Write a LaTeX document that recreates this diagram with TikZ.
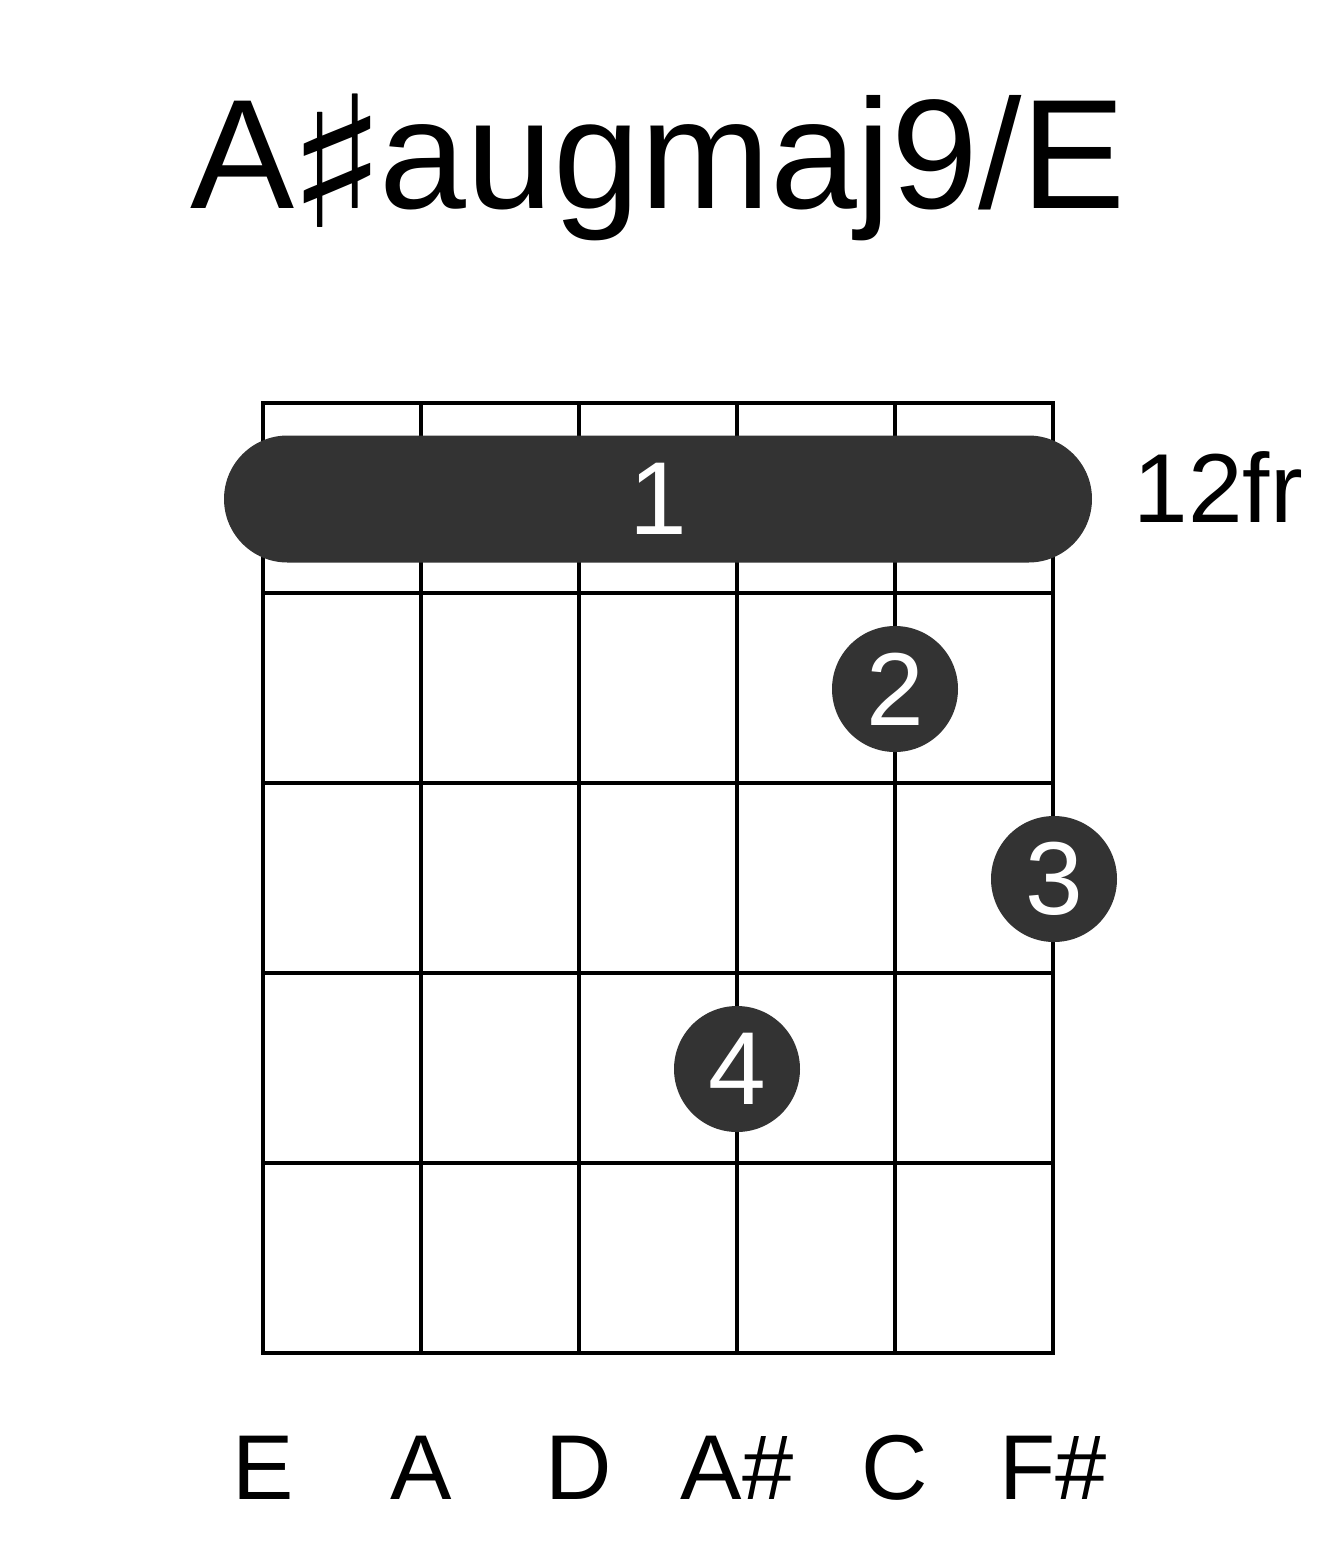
\documentclass[tikz,border=0pt]{standalone}
\usepackage{fontspec}
\setmainfont{Liberation Sans}
\newfontfamily\symfont{DejaVu Sans}
\usepackage{tikz}
\usetikzlibrary{positioning}
\usepackage{xcolor}
\definecolor{fing}{HTML}{333333}

\begin{document}
\begin{tikzpicture}[
		x=0.1mm, y=-0.1mm,
		g/.style = {line width=0.45mm, black},
		f/.style = {circle, fill=fing, text=white, minimum size=12.6mm, inner sep=0, font=\fontsize{29.5}{30}\selectfont},
		b/.style = {rectangle, rounded corners=6.35mm, fill=fing, text=white, minimum width=86.8mm, minimum height=12.7mm, inner sep=0, font=\fontsize{29.5}{30}\selectfont},
		s/.style = {anchor=base, inner sep=0, font=\fontsize{26.2}{27}\selectfont}
		]
		\useasboundingbox (0,0) rectangle (1317,1551);
		
		%Title
		\node[anchor=base, inner sep=0, font=\fontsize{44.4}{45}\selectfont]	(title)	at	(658,208)	{A\kern-0.8mm\raisebox{-1.9mm}{\scalebox{1.15}[1]{\symfont\fontsize{52}{52}\selectfont ♯}}\kern-0.8mm augmaj9/E};
		
		%Strings
		\draw[g]	(263,403)	--	(263,1353);
		\draw[g]	(421,403)	--	(421,1353);
		\draw[g]	(579,403)	--	(579,1353);
		\draw[g]	(737,403)	--	(737,1353);
		\draw[g]	(895,403)	--	(895,1353);
		\draw[g]	(1053,403)	--	(1053,1353);
		
		%Frets
		\draw[g]	(261,403)	--	(1055,403);
		\draw[g]	(263,593)	--	(1053,593);
		\draw[g]	(263,783)	--	(1053,783);
		\draw[g]	(263,973)	--	(1053,973);
		\draw[g]	(263,1163)	--	(1053,1163);
		\draw[g]	(261,1353)	--	(1055,1353);
		
		%Fingers
		\node[b]	(1)	at	(658,499)	{1};
		\node[f]	(2)	at	(895,689)	{2};
		\node[f]	(3)	at	(1054,879)	{3};
		\node[f]	(4)	at	(737,1069)	{4};
		
		\node[anchor=base west, inner sep=0, font=\fontsize{27.9}{28}\selectfont]	(fr)	at	(1133,522)	{12fr};
		
		%Notes
		\node[s]	(n1)	at	(263,1499)	{E};
		\node[s]	(n2)	at	(421,1499)	{A};
		\node[s]	(n3)	at	(579,1499)	{D};
		\node[s]	(n4)	at	(737,1499)	{A\#};
		\node[s]	(n5)	at	(895,1499)	{C};
		\node[s]	(n6)	at	(1053,1499)	{F\#};
	\end{tikzpicture}
\end{document}
